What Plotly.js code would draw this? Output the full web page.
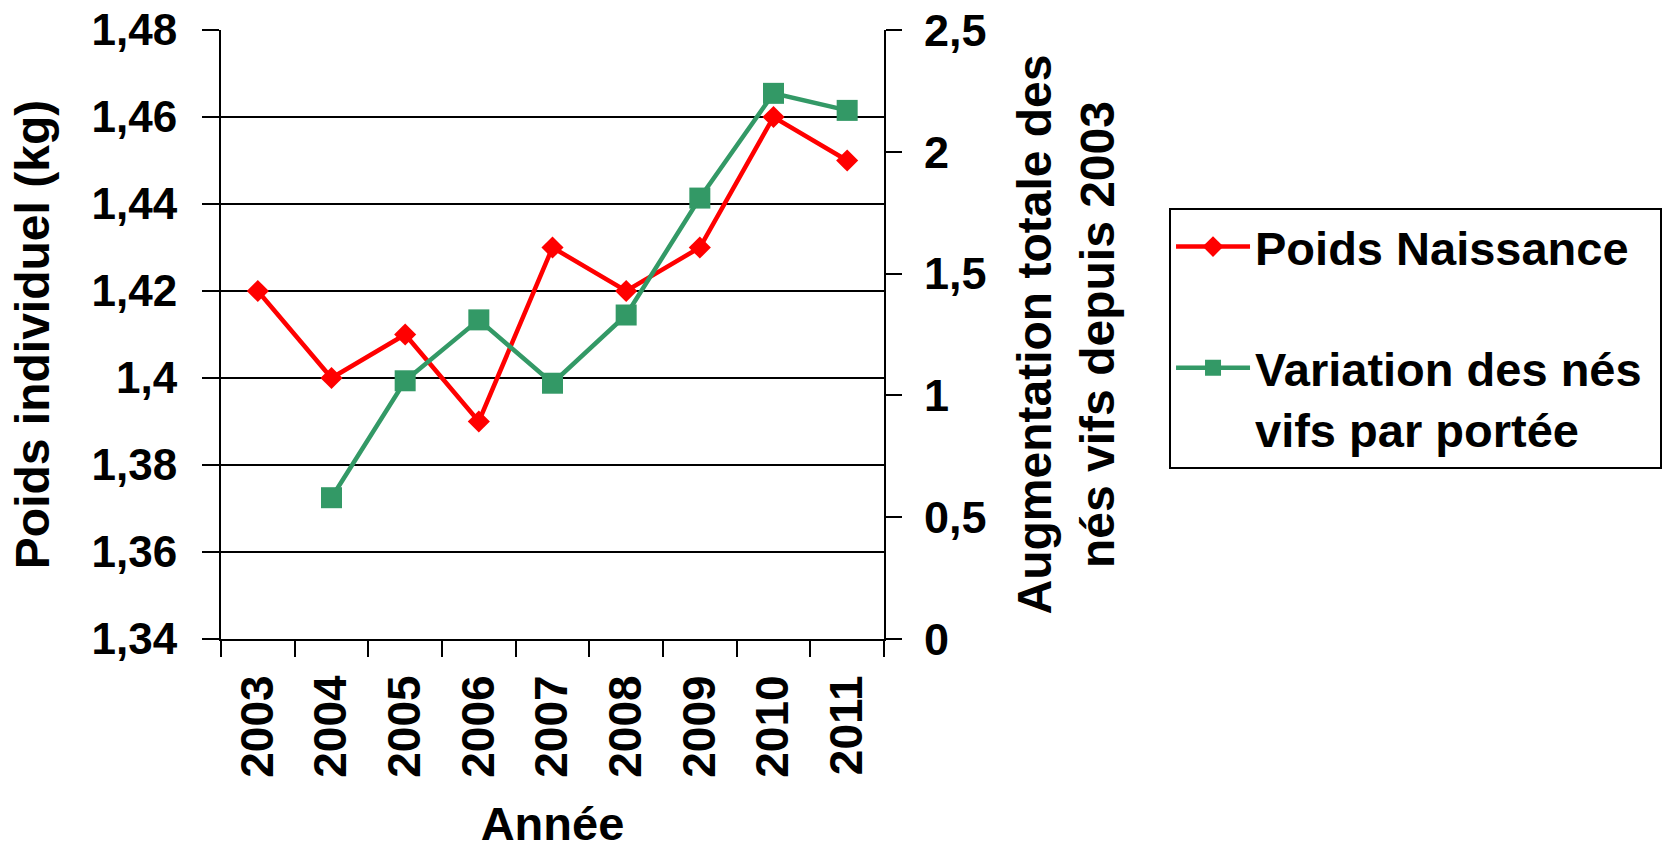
<!DOCTYPE html>
<html>
<head>
<meta charset="utf-8">
<script src="https://cdn.plot.ly/plotly-3.0.1.min.js"></script>
<style>html,body{margin:0;padding:0;background:#fff;}</style>
</head>
<body>
<div id="chart" style="width:1665px;height:850px;"></div>
<script>
const years = ['2003','2004','2005','2006','2007','2008','2009','2010','2011'];
const poidsNaissance = [1.42, 1.40, 1.41, 1.39, 1.43, 1.42, 1.43, 1.46, 1.45];
const variationNesVifs = [null, 0.58, 1.06, 1.31, 1.05, 1.33, 1.81, 2.24, 2.17];
const leftTickVals = [1.34, 1.36, 1.38, 1.40, 1.42, 1.44, 1.46, 1.48];
const leftTickText = ['1,34', '1,36', '1,38', '1,4', '1,42', '1,44', '1,46', '1,48'];
const rightTickVals = [0, 0.5, 1, 1.5, 2, 2.5];
const rightTickText = ['0', '0,5', '1', '1,5', '2', '2,5'];

const FONT = 'Liberation Sans, Arial, Helvetica, sans-serif';
const tickFont = {family: FONT, size: 44, color: '#000', weight: 'bold'};
const titleFont = {family: FONT, size: 47, color: '#000', weight: 'bold'};

const traces = [
  {
    x: years, y: poidsNaissance, name: 'Poids Naissance',
    type: 'scatter', mode: 'lines+markers', legendgroup: 'a',
    line: {color: '#ff0000', width: 4.5},
    marker: {symbol: 'diamond', size: 17, color: '#ff0000'},
    xaxis: 'x', yaxis: 'y'
  },
  {
    x: years, y: variationNesVifs, name: 'Variation des nés\u00a0<br>vifs par portée',
    type: 'scatter', mode: 'lines+markers', legendgroup: 'b',
    line: {color: '#339966', width: 4.5},
    marker: {symbol: 'square', size: 21, color: '#339966'},
    connectgaps: false,
    xaxis: 'x', yaxis: 'y2'
  }
];

const layout = {
  width: 1665, height: 850,
  margin: {l: 221, r: 781, t: 30, b: 211, autoexpand: false},
  paper_bgcolor: '#fff', plot_bgcolor: '#fff',
  showlegend: true,
  xaxis: {
    type: 'category', categoryorder: 'array', categoryarray: years,
    range: [-0.5, 8.5], tickson: 'boundaries',
    ticks: 'outside', ticklen: 16, tickwidth: 2, tickcolor: '#000',
    showline: true, linewidth: 2, linecolor: '#000',
    showgrid: false, zeroline: false,
    tickangle: -90, tickfont: Object.assign({}, tickFont, {size: 46}),
    ticklabelstandoff: 16,
    automargin: false,
    title: {text: 'Année', font: titleFont, standoff: 45}
  },
  yaxis: {
    range: [1.34, 1.48], tickmode: 'array', tickvals: leftTickVals, ticktext: leftTickText,
    ticks: 'outside', ticklen: 17, tickwidth: 2, tickcolor: '#000',
    showline: true, linewidth: 2, linecolor: '#000',
    showgrid: true, gridcolor: '#000', gridwidth: 2, zeroline: false,
    tickfont: tickFont, ticklabelstandoff: 16,
    automargin: false,
    title: {text: 'Poids individuel (kg)', font: Object.assign({}, titleFont, {size: 48}), standoff: 27}
  },
  yaxis2: {
    overlaying: 'y', side: 'right', anchor: 'x',
    range: [0, 2.5], tickmode: 'array', tickvals: rightTickVals, ticktext: rightTickText,
    ticks: 'outside', ticklen: 16, tickwidth: 2, tickcolor: '#000',
    showline: true, linewidth: 2, linecolor: '#000',
    showgrid: false, zeroline: false,
    tickfont: Object.assign({}, tickFont, {size: 45}), ticklabelstandoff: 13,
    automargin: false,
    title: {text: 'Augmentation totale des<br>nés vifs depuis 2003', font: Object.assign({}, titleFont, {size: 48}), standoff: 32}
  },
  yaxis3: {
    overlaying: 'y', side: 'right', anchor: 'x',
    range: [0, 2.5], tickmode: 'array', tickvals: rightTickVals,
    ticks: 'inside', ticklen: 16, tickwidth: 2, tickcolor: '#000',
    showticklabels: false, showline: false, showgrid: false, zeroline: false
  },
  legend: {
    x: 1.4299, y: 0.7085, xanchor: 'left', yanchor: 'top',
    xref: 'paper', yref: 'paper',
    bgcolor: '#fff', bordercolor: '#000', borderwidth: 2,
    font: {family: FONT, size: 47, color: '#000', weight: 'bold'},
    tracegroupgap: 57, valign: 'top', itemwidth: 74,
    traceorder: 'grouped'
  }
};

Plotly.newPlot('chart', traces, layout, {displayModeBar: false, staticPlot: true});
</script>
</body>
</html>
